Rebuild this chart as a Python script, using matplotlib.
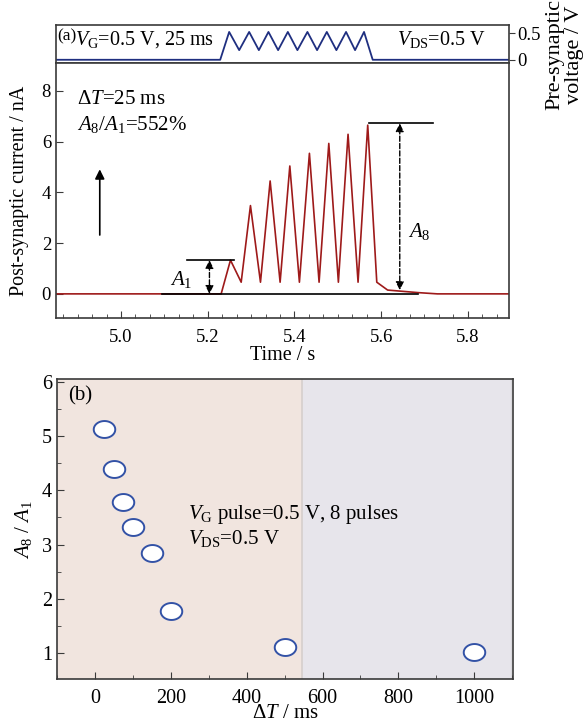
import numpy as np
import matplotlib
matplotlib.use("Agg")
import matplotlib.pyplot as plt
from matplotlib.ticker import AutoMinorLocator, MultipleLocator, FixedLocator
from matplotlib.path import Path

plt.rcParams['font.family'] = ['Liberation Serif', 'DejaVu Serif']
plt.rcParams['mathtext.fontset'] = 'custom'
plt.rcParams['mathtext.rm'] = 'Liberation Serif'
plt.rcParams['mathtext.it'] = 'Liberation Serif:italic'
plt.rcParams['mathtext.bf'] = 'Liberation Serif:bold'

# ---------------- data: panel (a) ----------------
t_current = [4.85, 5.231, 5.2525, 5.2772, 5.2986, 5.3217, 5.344, 5.367, 5.3894,
             5.4115, 5.4346, 5.4569, 5.4793, 5.5014, 5.5237, 5.5468, 5.5691,
             5.590, 5.615, 5.685, 5.73, 5.895]
i_current = [0.0, 0.0, 1.33, 0.46, 3.48, 0.46, 4.45, 0.46, 5.04, 0.46, 5.54,
             0.46, 5.93, 0.46, 6.29, 0.46, 6.65, 0.46, 0.15, 0.05, 0.0, 0.0]

t_voltage = [4.85, 5.2288, 5.2495, 5.2726, 5.2956, 5.318, 5.3401, 5.3624, 5.3848,
             5.4069, 5.43, 5.4523, 5.4747, 5.4968, 5.5191, 5.5399, 5.5606, 5.5806, 5.895]
v_voltage = [0.0, 0.0, 0.52, 0.18, 0.52, 0.18, 0.52, 0.18, 0.52, 0.18, 0.52,
             0.18, 0.52, 0.18, 0.52, 0.18, 0.52, 0.0, 0.0]

time_ticks = [5.0, 5.2, 5.4, 5.6, 5.8]
current_ticks = [0, 2, 4, 6, 8]
voltage_ticks = [0, 0.5]
voltage_ticklabels = ['0', '0.5']

# ---------------- data: panel (b) ----------------
delta_t = [25, 50, 75, 100, 150, 200, 500, 1000]
ratio = [5.12, 4.40, 3.78, 3.33, 2.85, 1.78, 1.12, 1.02]
dt_ticks = [0, 200, 400, 600, 800, 1000]
ratio_ticks = [1, 2, 3, 4, 5, 6]

RED = '#9e1a1a'
NAVY = '#1f2f80'
MK_EDGE = '#3352a6'
SPINE = '#3a3a3a'

fig = plt.figure(figsize=(5.85, 7.24), dpi=100)

axv = fig.add_axes([0.0957, 0.913, 0.7744, 0.0525])
axa = fig.add_axes([0.0957, 0.5608, 0.7744, 0.3522])
axb = fig.add_axes([0.0974, 0.0622, 0.7795, 0.4144])

for ax in (axv, axa, axb):
    for s in ax.spines.values():
        s.set_color(SPINE)
        s.set_linewidth(1.2)

# ---- voltage axes ----
axv.plot(t_voltage, v_voltage, color=NAVY, lw=1.3)
axv.set_xlim(4.85, 5.895)
axv.set_ylim(-0.06, 0.65)
axv.set_xticks([])
axv.yaxis.tick_right()
axv.yaxis.set_major_locator(FixedLocator(voltage_ticks))
axv.set_yticklabels(voltage_ticklabels)
axv.tick_params(axis='y', direction='out', length=4, labelsize=13.5, pad=2, colors=SPINE, labelcolor='black')
axv.text(0.002, 0.70, '(a)', transform=axv.transAxes, fontsize=12.5, ha='left', va='center')
axv.text(0.042, 0.62, r'$V_{\rm G}$=0.5 V, 25 ms', transform=axv.transAxes, fontsize=14.5, ha='left', va='center')
axv.text(0.752, 0.62, r'$V_{\rm DS}$=0.5 V', transform=axv.transAxes, fontsize=14.5, ha='left', va='center')
fig.text(0.965, 0.925, 'Pre-synaptic\nvoltage / V', rotation=90, ha='center', va='center',
         fontsize=16, multialignment='center', linespacing=1.0)

# ---- current axes ----
axa.plot(t_current, i_current, color=RED, lw=1.2, zorder=2)
axa.plot([5.0945, 5.685], [0, 0], color='black', lw=1.2, zorder=3)
axa.set_xlim(4.85, 5.895)
axa.set_ylim(-0.95, 9.1)
axa.xaxis.set_major_locator(FixedLocator(time_ticks))
axa.xaxis.set_minor_locator(MultipleLocator(0.2 / 6))
axa.set_xticklabels([f'{v:.1f}' for v in time_ticks])
axa.yaxis.set_major_locator(FixedLocator(current_ticks))
axa.tick_params(axis='both', which='major', direction='in', length=5, labelsize=13.5, colors=SPINE, labelcolor='black')
axa.tick_params(axis='x', which='minor', direction='in', length=3, colors=SPINE)
axa.tick_params(axis='x', pad=8)
axa.set_xlabel('Time / s', fontsize=14.5, labelpad=0)
axa.set_ylabel('Post-synaptic current / nA', fontsize=14.5, labelpad=9)

a1 = i_current[2]
a8 = i_current[16]
axa.plot([5.152, 5.261], [a1, a1], color='black', lw=1.2)
axa.annotate('', xy=(5.204, a1), xytext=(5.204, 0.0),
             arrowprops=dict(arrowstyle='<|-|>', color='black', lw=1.0, ls='--',
                             shrinkA=0, shrinkB=0, mutation_scale=12))
axa.text(5.139, 0.55, r'$A_{\rm 1}$', fontsize=15, ha='center', va='center')
axa.plot([5.571, 5.720], [a8 + 0.07, a8 + 0.07], color='black', lw=1.2)
axa.annotate('', xy=(5.643, a8 + 0.07), xytext=(5.643, 0.15),
             arrowprops=dict(arrowstyle='<|-|>', color='black', lw=1.0, ls='--',
                             shrinkA=0, shrinkB=0, mutation_scale=12))
axa.text(5.662, 2.45, r'$A_{\rm 8}$', fontsize=15, ha='left', va='center')
axa.annotate('', xy=(4.951, 4.91), xytext=(4.951, 2.32),
             arrowprops=dict(arrowstyle='-|>', color='black', lw=1.2,
                             shrinkA=0, shrinkB=0, mutation_scale=14))
axa.text(0.046, 0.857, r'Δ$T$=25 ms', transform=axa.transAxes, fontsize=15, ha='left', va='center')
axa.text(0.046, 0.76, r'$A_{\rm 8}$/$A_{\rm 1}$=552%', transform=axa.transAxes, fontsize=15, ha='left', va='center')

# ---- panel b ----
axb.axvspan(-100, 545, color='#f1e5df', lw=0, zorder=0)
axb.axvspan(545, 1096, color='#e7e5eb', lw=0, zorder=0)
axb.axvline(545, color='#d6cfcc', lw=1.2, zorder=0.5)
axb.axvline(1096, color='#d9d8dc', lw=1.0, zorder=0.5)

theta = np.linspace(0, 2 * np.pi, 60)
ellipse = Path(np.column_stack([1.27 * np.cos(theta), np.sin(theta)]), closed=True)
axb.plot(delta_t, ratio, ls='none', marker=ellipse, markersize=15.5,
         markerfacecolor='white', markeredgecolor=MK_EDGE, markeredgewidth=1.4, zorder=3)
axb.set_xlim(-100, 1102)
axb.set_ylim(0.525, 6.05)
axb.xaxis.set_major_locator(FixedLocator(dt_ticks))
axb.xaxis.set_minor_locator(AutoMinorLocator(2))
axb.yaxis.set_major_locator(FixedLocator(ratio_ticks))
axb.yaxis.set_minor_locator(AutoMinorLocator(2))
axb.tick_params(axis='both', which='major', direction='in', length=5, labelsize=14.5, colors=SPINE, labelcolor='black')
axb.tick_params(axis='both', which='minor', direction='in', length=3, colors=SPINE)
axb.tick_params(axis='x', pad=7)
axb.set_xlabel(r'Δ$T$ / ms', fontsize=15, labelpad=-3)
axb.set_ylabel(r'$A_{\rm 8}$ / $A_{\rm 1}$', fontsize=15, labelpad=6)
axb.text(0.024, 0.945, '(b)', transform=axb.transAxes, fontsize=15, ha='left', va='center')
axb.text(0.287, 0.547, r'$V_{\rm G}$ pulse=0.5 V, 8 pulses', transform=axb.transAxes, fontsize=15, ha='left', va='center')
axb.text(0.287, 0.467, r'$V_{\rm DS}$=0.5 V', transform=axb.transAxes, fontsize=15, ha='left', va='center')

fig.savefig('out.png', dpi=100)
